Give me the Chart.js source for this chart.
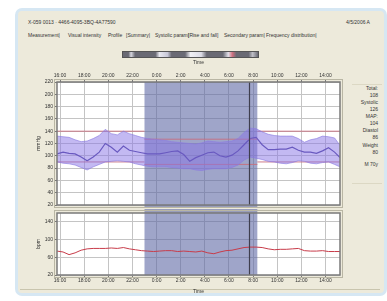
<!DOCTYPE html>
<html>
<head>
<meta charset="utf-8">
<script src="https://cdn.jsdelivr.net/npm/chart.js@4.4.1/dist/chart.umd.min.js"></script>
<style>
body { margin: 0; width: 387px; height: 301px; overflow: hidden; background: #fff; font-family: "Liberation Sans", Arial, sans-serif; }
#panel { position: absolute; left: 15px; top: 8px; width: 366px; height: 282px; border: 3px solid #d6e7f3; border-radius: 7px; background: #edeadb; }
#status { position: absolute; left: 20px; top: 289px; width: 360px; height: 0; border-top: 1px solid #c9c5ae; }
.txt { position: absolute; font-size: 5px; line-height: 6px; color: #333; white-space: nowrap; }
#slider { position: absolute; left: 122px; top: 51px; width: 135px; height: 5px; border: 1px solid #555;
  background: linear-gradient(90deg, #6a6a74 0%, #6a6a74 4%, #d8d8e0 6%, #6a6a74 9%, #6a6a74 24%, #e8e8f0 27%, #c8c8d8 33%, #6a6a74 36%,
  #6a6a74 46%, #f0f0f4 50%, #dcdce6 58%, #6a6a74 62%, #6a6a74 74%, #e0e0e8 78%, #d07080 81%, #6a6a74 84%, #6a6a74 93%, #c0c0c8 96%, #6a6a74 100%); }
#info { position: absolute; left: 352px; top: 84px; width: 30px; height: 98px; border-top: 1px solid #dcd8c4; border-bottom: 1px solid #dcd8c4; }
canvas { position: absolute; }
</style>
</head>
<body>
<div id="panel"></div>
<div id="status"></div>
<div class="txt" style="left:28px;top:19px;">X-059 0013 · 4466-4095-3BQ-4A77590</div>
<div class="txt" style="left:346px;top:19px;">4/5/2006 A</div>
<div class="txt" style="left:28px;top:32px;">Measurement|</div>
<div class="txt" style="left:68px;top:32px;">Visual intensity</div>
<div class="txt" style="left:108px;top:32px;">Profile</div>
<div class="txt" style="left:126px;top:32px;">[Summary|</div>
<div class="txt" style="left:155px;top:32px;">Systolic param|</div>
<div class="txt" style="left:188px;top:32px;">[Rise and fall]</div>
<div class="txt" style="left:224px;top:32px;">Secondary param|</div>
<div class="txt" style="left:266px;top:32px;">Frequency distribution|</div>
<div id="slider"></div>
<div id="info"></div>
<div class="txt" style="left:346px;top:85px;width:32px;text-align:right;">Total:</div>
<div class="txt" style="left:346px;top:92px;width:32px;text-align:right;">108</div>
<div class="txt" style="left:346px;top:99px;width:32px;text-align:right;">Systolic</div>
<div class="txt" style="left:346px;top:106px;width:32px;text-align:right;">126</div>
<div class="txt" style="left:346px;top:113px;width:32px;text-align:right;">MAP:</div>
<div class="txt" style="left:346px;top:120px;width:32px;text-align:right;">104</div>
<div class="txt" style="left:346px;top:127px;width:32px;text-align:right;">Diastol</div>
<div class="txt" style="left:346px;top:134px;width:32px;text-align:right;">86</div>
<div class="txt" style="left:346px;top:142px;width:32px;text-align:right;">Weight</div>
<div class="txt" style="left:346px;top:149px;width:32px;text-align:right;">80</div>
<div class="txt" style="left:346px;top:161px;width:32px;text-align:right;">M 70y</div>

<canvas id="bp" width="309" height="150" style="left:36px;top:60px;"></canvas>
<canvas id="hr" width="309" height="88" style="left:36px;top:208px;"></canvas>

<script>
// hours since midnight of day 1 (24+ = next day)
const times = [15.75, 16.25, 16.75, 17.25, 17.75, 18.25, 18.75, 19.25, 19.75, 20.25, 20.75, 21.25,
  21.75, 22.25, 22.75, 23.25, 23.75, 24.25, 24.75, 25.25, 25.75, 26.25, 26.75, 27.25,
  27.75, 28.25, 28.75, 29.25, 29.75, 30.25, 30.75, 31.25, 31.75, 32.25, 32.75, 33.25,
  33.75, 34.25, 34.75, 35.25, 35.75, 36.25, 36.75, 37.25, 37.75, 38.25, 38.75, 39.2];

const meanBP = [103, 106, 104, 103, 98, 92, 98, 106, 120, 114, 106, 116,
  109, 107, 105, 103, 103, 103, 105, 107, 108, 102, 91, 97,
  101, 105, 106, 100, 98, 101, 108, 118, 128, 130, 118, 110,
  110, 111, 111, 114, 109, 106, 106, 104, 108, 113, 106, 97];

const upperBP = [132, 131, 130, 126, 123, 124, 128, 133, 143, 136, 134, 140,
  136, 133, 130, 128, 127, 126, 125, 123, 122, 121, 120, 119,
  121, 124, 123, 122, 123, 124, 128, 138, 145, 144, 139, 135,
  133, 132, 132, 132, 128, 122, 126, 128, 132, 131, 129, 117];

const lowerBP = [90, 88, 87, 85, 81, 77, 82, 86, 90, 91, 92, 91,
  90, 87, 85, 83, 82, 82, 82, 81, 80, 79, 79, 77,
  76, 78, 79, 79, 79, 81, 85, 93, 98, 96, 94, 91,
  90, 88, 87, 89, 92, 91, 88, 87, 89, 90, 86, 82];

const heartRate = [74, 72, 66, 70, 76, 79, 80, 80, 80, 81, 80, 82,
  79, 77, 75, 74, 73, 74, 75, 75, 73, 74, 73, 72,
  74, 70, 68, 72, 75, 76, 79, 82, 83, 83, 82, 79,
  77, 78, 78, 79, 80, 75, 74, 74, 75, 73, 73, 73];

const tickHours = [16, 18, 20, 22, 24, 26, 28, 30, 32, 34, 36, 38];
const tickLabels = ['16:00', '18:00', '20:00', '22:00', '0:00', '2:00', '4:00', '6:00', '8:00', '10:00', '12:00', '14:00'];

const dayLimits = [140, 90];
const nightLimits = [127, 86];
const startHour = 15.75;
const endHour = 39.2;
const nightStart = 23.0;
const nightEnd = 32.35;
const markerHour = 31.7;

const font = { family: '"Liberation Sans", Arial, sans-serif', size: 5 };
const gridColor = '#c4c4c4';

function pts(ys) {
    return times.map((t, i) => ({ x: t, y: ys[i] }));
}

function limitLine(x0, x1, y) {
    return {
        data: [{ x: x0, y: y }, { x: x1, y: y }],
        borderColor: 'rgba(200, 110, 125, 0.9)',
        borderWidth: 1,
        pointRadius: 0,
        fill: false
    };
}

// white plot, night shading, frame and marker line
const plotDecor = {
    id: 'plotDecor',
    beforeDraw(chart) {
        const a = chart.chartArea;
        const ctx = chart.ctx;
        ctx.save();
        ctx.fillStyle = '#fff';
        ctx.fillRect(a.left, a.top, a.right - a.left, a.bottom - a.top);
        ctx.restore();
    },
    beforeDatasetsDraw(chart) {
        const a = chart.chartArea;
        const ctx = chart.ctx;
        const x = chart.scales.x;
        const x0 = x.getPixelForValue(nightStart);
        const x1 = x.getPixelForValue(nightEnd);
        const top = chart.canvas.id === 'hr' ? a.top - 4 : a.top;
        const bottom = chart.canvas.id === 'bp' ? a.bottom + 3 : a.bottom;
        ctx.save();
        ctx.fillStyle = 'rgba(95, 105, 165, 0.6)';
        ctx.fillRect(x0, top, x1 - x0, bottom - top);
        ctx.restore();
    },
    afterDatasetsDraw(chart) {
        const a = chart.chartArea;
        const ctx = chart.ctx;
        const xm = Math.round(chart.scales.x.getPixelForValue(markerHour)) + 0.5;
        ctx.save();
        ctx.strokeStyle = '#3e3e4e';
        ctx.lineWidth = 1.2;
        ctx.beginPath();
        ctx.moveTo(xm, a.top);
        ctx.lineTo(xm, a.bottom);
        ctx.stroke();
        ctx.strokeStyle = '#7a7a7a';
        ctx.lineWidth = 1.5;
        ctx.strokeRect(a.left, a.top, a.right - a.left, a.bottom - a.top);
        ctx.strokeStyle = '#b9b6a4';
        ctx.lineWidth = 1;
        ctx.strokeRect(a.left - 2.5, a.top - 2.5, a.right - a.left + 5, a.bottom - a.top + 5);
        ctx.restore();
    }
};

function xAxis(position, height) {
    return {
        type: 'linear',
        position: position,
        min: startHour,
        max: endHour,
        afterBuildTicks: s => { s.ticks = tickHours.map(v => ({ value: v })); },
        afterFit: s => { s.height = height; },
        ticks: {
            font: font,
            color: '#333',
            padding: 1,
            autoSkip: false,
            maxRotation: 0,
            callback: (v) => tickLabels[tickHours.indexOf(v)]
        },
        grid: { color: gridColor, tickLength: 2, tickColor: '#777' },
        border: { display: false },
        title: { display: true, text: 'Time', font: font, color: '#333', padding: { top: 0, bottom: 1 } }
    };
}

function yAxis(min, max, title) {
    return {
        min: min,
        max: max,
        afterFit: s => { s.width = 21; },
        ticks: { stepSize: 20, font: font, color: '#333', padding: 2 },
        grid: { color: gridColor, tickLength: 2, tickColor: '#777' },
        border: { display: false },
        title: { display: true, text: title, font: font, color: '#333', padding: 0 }
    };
}

const commonOptions = {
    responsive: false,
    animation: false,
    plugins: { legend: { display: false }, tooltip: { enabled: false } },
    elements: { line: { tension: 0 } }
};

document.addEventListener('DOMContentLoaded', function() {
    new Chart(document.getElementById('bp').getContext('2d'), {
        type: 'line',
        data: {
            datasets: [
                {
                    data: pts(upperBP),
                    borderColor: 'rgba(140, 125, 225, 0.8)',
                    borderWidth: 0.8,
                    backgroundColor: 'rgba(135, 115, 230, 0.5)',
                    pointRadius: 0,
                    fill: '+1'
                },
                {
                    data: pts(lowerBP),
                    borderColor: 'rgba(140, 125, 225, 0.8)',
                    borderWidth: 0.8,
                    pointRadius: 0,
                    fill: false
                },
                limitLine(startHour, nightStart, dayLimits[0]),
                limitLine(nightEnd, endHour, dayLimits[0]),
                limitLine(nightStart, nightEnd, nightLimits[0]),
                limitLine(nightStart, nightEnd, nightLimits[1]),
                limitLine(startHour, nightStart, dayLimits[1]),
                limitLine(nightEnd, endHour, dayLimits[1]),
                {
                    data: pts(meanBP),
                    borderColor: '#4a3f9a',
                    borderWidth: 1.2,
                    pointRadius: 0,
                    fill: false
                }
            ]
        },
        options: Object.assign({}, commonOptions, {
            layout: { padding: { top: 0, right: 5, bottom: 3, left: 0 } },
            scales: { x: xAxis('top', 22), y: yAxis(20, 220, 'mmHg') }
        }),
        plugins: [plotDecor]
    });

    new Chart(document.getElementById('hr').getContext('2d'), {
        type: 'line',
        data: {
            datasets: [{
                data: pts(heartRate),
                borderColor: '#c83c4a',
                borderWidth: 1,
                pointRadius: 0,
                fill: false
            }]
        },
        options: Object.assign({}, commonOptions, {
            layout: { padding: { top: 5, right: 5, bottom: 0, left: 0 } },
            scales: { x: xAxis('bottom', 21), y: yAxis(20, 160, 'bpm') }
        }),
        plugins: [plotDecor]
    });
});
</script>
</body>
</html>
